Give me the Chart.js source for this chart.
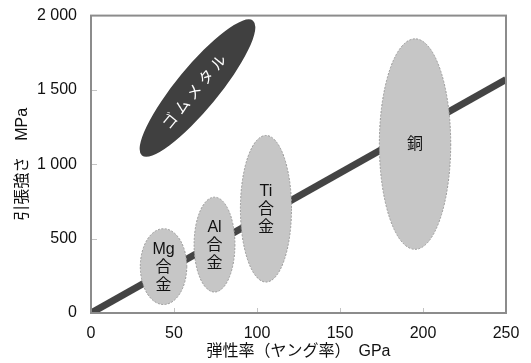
<!DOCTYPE html>
<html>
<head>
<meta charset="utf-8">
<script src="https://cdn.jsdelivr.net/npm/chart.js@4"></script>
<style>
  html, body { margin: 0; padding: 0; background: #fff; }
  #wrap { width: 531px; height: 363px; }
</style>
</head>
<body>
<div id="wrap"><canvas id="chart" width="531" height="363"></canvas></div>
<script>
/* 弾性率と引張強さの関係 */
const alloyLabels = [["Mg", "合", "金"], ["Al", "合", "金"], ["Ti", "合", "金"], ["銅"]];
const modulusCenter = [43.7, 74.4, 105.4, 195.2];   // GPa
const modulusHalf = [14, 12.3, 15.4, 21.5];
const strengthCenter = [312, 460, 701, 1136];      // MPa
const strengthHalf = [255, 319, 493, 708];

// ゴムメタル: 長軸の両端 (GPa, MPa) と半幅 (GPa)
const gumLabel = "ゴムメタル";
const gumFrom = [30.7, 1060];
const gumTo = [97.6, 1966];
const gumHalfWidth = 12.7;

// 傾向線
const trendModulus = [0, 250];
const trendStrength = [0, 1570];

const xTicks = [0, 50, 100, 150, 200, 250];
const yTicks = [0, 500, 1000, 1500, 2000];

const FONT = '"Liberation Sans", Arial, "Noto Sans CJK JP", sans-serif';

const fmt = (v) => String(v).replace(/\B(?=(\d{3})+(?!\d))/g, " ");

const shapes = {
  id: "shapes",
  afterDatasetsDraw(chart) {
    const { ctx, chartArea: a, scales: { x, y } } = chart;
    ctx.save();
    ctx.beginPath();
    ctx.rect(a.left, a.top, a.right - a.left, a.bottom - a.top);
    ctx.clip();

    // ゴムメタル
    const x1 = x.getPixelForValue(gumFrom[0]), y1 = y.getPixelForValue(gumFrom[1]);
    const x2 = x.getPixelForValue(gumTo[0]), y2 = y.getPixelForValue(gumTo[1]);
    const cx = (x1 + x2) / 2, cy = (y1 + y2) / 2;
    const ang = Math.atan2(y2 - y1, x2 - x1);
    const ra = Math.hypot(x2 - x1, y2 - y1) / 2;
    const rb = x.getPixelForValue(gumHalfWidth) - x.getPixelForValue(0);
    ctx.beginPath();
    ctx.ellipse(cx, cy, ra, rb, ang, 0, Math.PI * 2);
    ctx.fillStyle = "#404040";
    ctx.fill();
    ctx.save();
    ctx.translate(cx, cy);
    ctx.rotate(ang);
    ctx.fillStyle = "#fff";
    ctx.font = "15px " + FONT;
    ctx.letterSpacing = "4px";
    ctx.textAlign = "center";
    ctx.textBaseline = "middle";
    ctx.fillText(gumLabel, -3, 1);
    ctx.restore();

    // 合金の楕円
    alloyLabels.forEach((lines, i) => {
      const ex = x.getPixelForValue(modulusCenter[i]);
      const ey = y.getPixelForValue(strengthCenter[i]);
      const rx = x.getPixelForValue(modulusCenter[i] + modulusHalf[i]) - ex;
      const ry = ey - y.getPixelForValue(strengthCenter[i] + strengthHalf[i]);
      ctx.beginPath();
      ctx.ellipse(ex, ey, rx, ry, 0, 0, Math.PI * 2);
      ctx.fillStyle = "#c6c6c6";
      ctx.fill();
      ctx.setLineDash([2, 1.5]);
      ctx.lineWidth = 1;
      ctx.strokeStyle = "#999";
      ctx.stroke();
      ctx.setLineDash([]);
      ctx.fillStyle = "#111";
      ctx.font = "16px " + FONT;
      ctx.textAlign = "center";
      ctx.textBaseline = "middle";
      const lh = 18;
      lines.forEach((t, k) => {
        ctx.fillText(t, ex, ey + (k - (lines.length - 1) / 2) * lh + 1);
      });
    });
    ctx.restore();
  },
  afterDraw(chart) {
    const { ctx, chartArea: a, scales: { x, y } } = chart;
    ctx.save();
    // 内向きの目盛り
    ctx.strokeStyle = "#c4c4c4";
    ctx.lineWidth = 1;
    xTicks.slice(1, -1).forEach((v) => {
      const px = Math.round(x.getPixelForValue(v)) + 0.5;
      ctx.beginPath(); ctx.moveTo(px, a.bottom); ctx.lineTo(px, a.bottom - 5); ctx.stroke();
    });
    yTicks.slice(1, -1).forEach((v) => {
      const py = Math.round(y.getPixelForValue(v)) + 0.5;
      ctx.beginPath(); ctx.moveTo(a.left, py); ctx.lineTo(a.left + 6, py); ctx.stroke();
    });
    // 枠
    ctx.strokeStyle = "#8c8c8c";
    ctx.lineWidth = 2;
    ctx.strokeRect(a.left, a.top, a.right - a.left, a.bottom - a.top);
    ctx.restore();
  }
};

new Chart(document.getElementById("chart"), {
  type: "scatter",
  data: {
    datasets: [{
      data: trendModulus.map((v, i) => ({ x: v, y: trendStrength[i] })),
      showLine: true,
      borderColor: "#444",
      borderWidth: 7,
      pointRadius: 0,
      borderCapStyle: "butt"
    }]
  },
  options: {
    responsive: false,
    animation: false,
    devicePixelRatio: 1,
    layout: { padding: { top: 15, right: 25, left: 0, bottom: 0 } },
    plugins: { legend: { display: false }, tooltip: { enabled: false } },
    scales: {
      x: {
        type: "linear", min: 0, max: 250,
        afterBuildTicks: (s) => { s.ticks = xTicks.map((v) => ({ value: v })); },
        afterFit: (s) => { s.height = 50; },
        grid: { display: false },
        border: { display: false },
        ticks: { color: "#111", font: { family: FONT, size: 16 }, padding: 3, maxRotation: 0 },
        title: { display: true, text: "弾性率（ヤング率）　GPa", color: "#111", font: { family: FONT, size: 16 }, padding: { top: 0, bottom: 2 } }
      },
      y: {
        type: "linear", min: 0, max: 2000,
        afterBuildTicks: (s) => { s.ticks = yTicks.map((v) => ({ value: v })); },
        afterFit: (s) => { s.width = 91; },
        grid: { display: false },
        border: { display: false },
        ticks: { color: "#111", font: { family: FONT, size: 16 }, padding: 6, callback: fmt },
        title: { display: true, text: "引張強さ　MPa", color: "#111", font: { family: FONT, size: 16 }, padding: { top: 13, bottom: 0 } }
      }
    }
  },
  plugins: [shapes]
});
</script>
</body>
</html>
